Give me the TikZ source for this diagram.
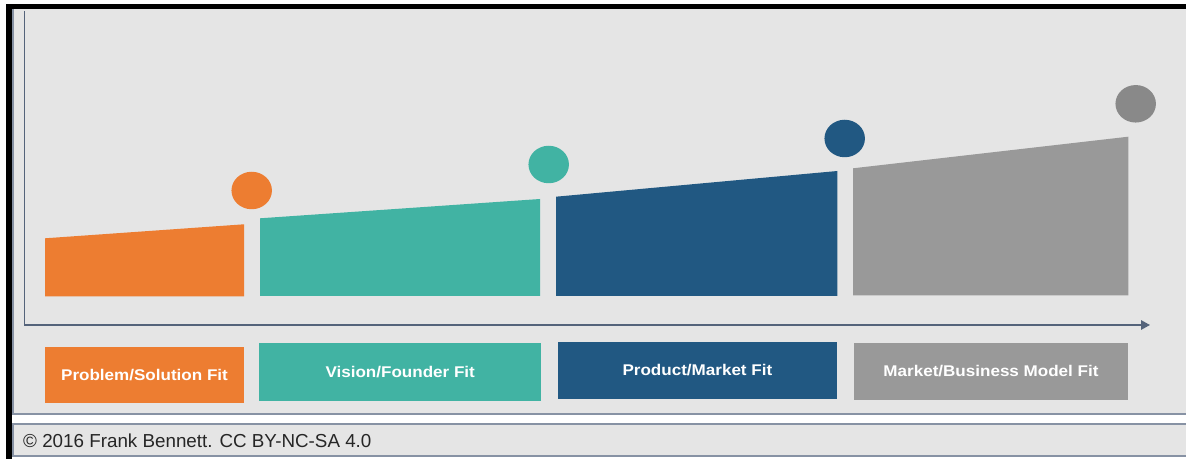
\documentclass[tikz,border=0pt]{standalone}
\usepackage{fontspec}
\setmainfont{Liberation Sans}
\newfontfamily\labelfont[FakeStretch=1.1]{Liberation Sans}
\usetikzlibrary{positioning,arrows.meta,shapes.geometric}

\definecolor{psorange}{RGB}{237,125,49}
\definecolor{vfteal}{RGB}{65,179,163}
\definecolor{pmblue}{RGB}{33,88,130}
\definecolor{mbgray}{RGB}{153,153,153}
\definecolor{mbdot}{RGB}{137,137,137}
\definecolor{panelgray}{RGB}{229,229,229}
\definecolor{axisblue}{RGB}{84,99,122}
\definecolor{rimgray}{RGB}{135,146,164}
\definecolor{creditgray}{RGB}{38,38,38}

\begin{document}
\begin{tikzpicture}[
        x=1bp, y=-1bp,
        fitlabel/.style={rectangle, inner sep=0pt, text=white, font=\labelfont\bfseries\fontsize{15.5bp}{18bp}\selectfont},
        milestone/.style={ellipse, inner sep=0pt, minimum width=40.5bp, minimum height=37.5bp},
        axisline/.style={-{Triangle[length=9bp,width=9.5bp]}, line width=1.5bp, draw=axisblue},
        rim/.style={line width=1.8bp, draw=rimgray},
    ]
    \useasboundingbox (0,0) rectangle (1186,459);

    % ----- Frame (runs past the right edge) -----
    \fill[panelgray] (11.5,9.5) rectangle (1200,415);
    \fill[panelgray] (11.5,423.5) rectangle (1200,456.5);
    \draw[rim] (12.8,9.5) -- (12.8,414.3) -- (1200,414.3);
    \draw[rim] (1200,424.2) -- (12.8,424.2) -- (12.8,456) -- (1200,456);
    \fill[black] (6,4) rectangle (1200,9.5);
    \fill[black] (6,4) rectangle (11.5,459);

    % ----- Axes -----
    \coordinate (ytop) at (24.5,11);
    \coordinate (xend) at (1150,325);
    \draw[axisline] (ytop) |- (xend);

    % ----- Stage bars -----
    \fill[psorange] (45,296.5) -- (45,238.3) -- (244,224.3) -- (244,296.5) -- cycle;
    \fill[vfteal] (260,296) -- (260,218.3) -- (540,199) -- (540,296) -- cycle;
    \fill[pmblue] (556,296) -- (556,196.7) -- (837.3,171) -- (837.3,296) -- cycle;
    \fill[mbgray] (853,295.5) -- (853,168.3) -- (1128.3,136.7) -- (1128.3,295.5) -- cycle;

    % ----- Milestones -----
    \node[milestone, fill=psorange] (psdot) at (251.7,190.5) {};
    \node[milestone, fill=vfteal] (vfdot) at (548.7,164.5) {};
    \node[milestone, fill=pmblue] (pmdot) at (844.7,138.5) {};
    \node[milestone, fill=mbdot] (mbdot) at (1135.7,103.8) {};

    % ----- Stage labels -----
    \node[fitlabel, fill=psorange, minimum width=199bp, minimum height=56bp] (psfit) at (144.5,374.7) {Problem/Solution Fit};
    \node[fitlabel, fill=vfteal, minimum width=281.7bp, minimum height=58.3bp] (vffit) at (400.2,371.9) {Vision/Founder Fit};
    \node[fitlabel, fill=pmblue, minimum width=279.8bp, minimum height=57bp] (pmfit) at (697.4,370.5) {Product/Market Fit};
    \node[fitlabel, fill=mbgray, minimum width=274bp, minimum height=57bp] (mbfit) at (991,371.5) {Market/Business Model Fit};

    % ----- Credit line -----
    \node[anchor=base west, inner sep=0pt, text=creditgray, font=\fontsize{18.8bp}{22bp}\selectfont] (credit) at (23,447.5) {© 2016 Frank Bennett. CC BY-NC-SA 4.0};

\end{tikzpicture}
\end{document}
